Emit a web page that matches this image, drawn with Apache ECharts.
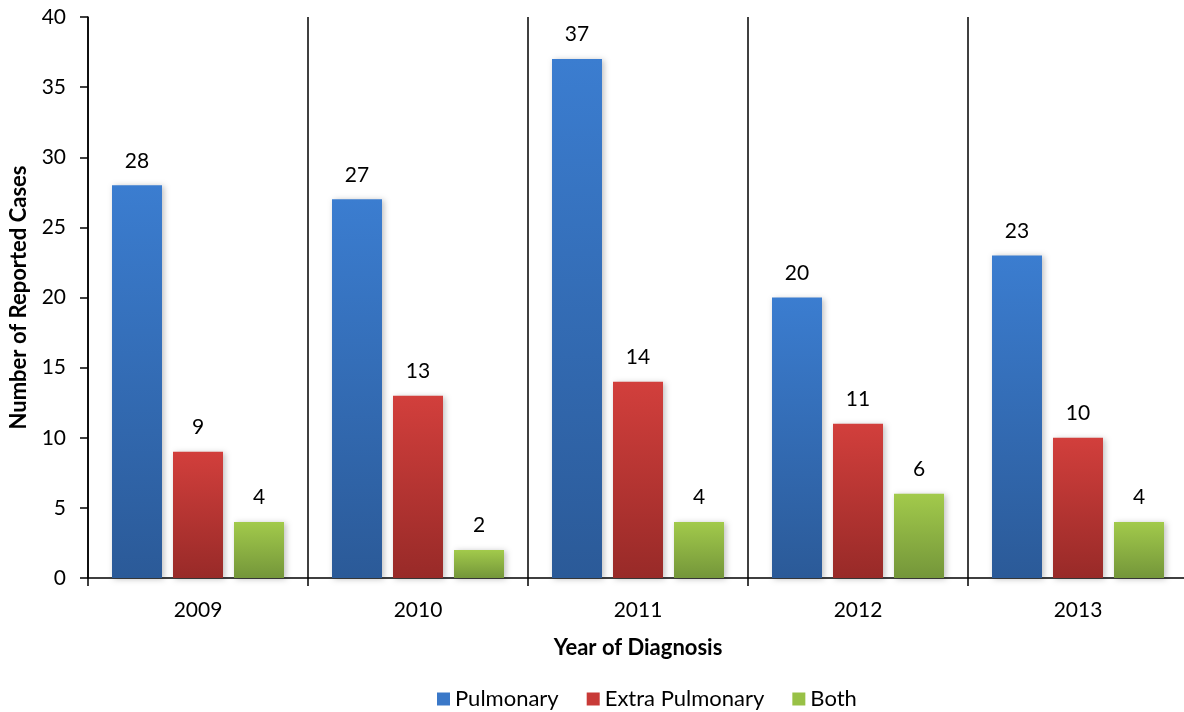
<!DOCTYPE html>
<html><head><meta charset="utf-8">
<script src="https://cdn.jsdelivr.net/npm/echarts@6/dist/echarts.min.js"></script>
<style>html,body{margin:0;padding:0;background:#fff}#c{width:1184px;height:712px}</style>
</head><body><div id="c"></div>
<script>
var years = ['2009','2010','2011','2012','2013'];
var pulmonary = [28,27,37,20,23];
var extraPulmonary = [9,13,14,11,10];
var both = [4,2,4,6,4];
var seriesNames = ['Pulmonary','Extra Pulmonary','Both'];

var FONT = 'Lato';
function grad(top, bottom){
  return new echarts.graphic.LinearGradient(0,0,0,1,[{offset:0,color:top},{offset:1,color:bottom}]);
}
function mk(name, data, top, bottom){
  return {
    name:name, type:'bar', data:data, barWidth:50, barGap:'22%',
    itemStyle:{color:grad(top,bottom), shadowColor:'rgba(0,0,0,0.25)', shadowBlur:6, shadowOffsetX:2, shadowOffsetY:1},
    label:{show:true, position:'top', distance:14, color:'#000', fontFamily:FONT, fontSize:21},
    emphasis:{disabled:true}
  };
}
var chart = echarts.init(document.getElementById('c'));
chart.setOption({
  animation:false,
  color:['#3a78c8','#c83a37','#98c146'],
  grid:{left:88, right:-4, top:17, bottom:134, containLabel:false, outerBoundsMode:'none'},
  legend:{
    top:688, left:437, padding:0, itemWidth:13, itemHeight:13, itemGap:28,
    icon:'rect',
    textStyle:{fontFamily:FONT, fontSize:22, color:'#000'},
    data:[
      {name:'Pulmonary', itemStyle:{color:'#3a78c8'}},
      {name:'Extra Pulmonary', itemStyle:{color:'#c83a37'}},
      {name:'Both', itemStyle:{color:'#98c146'}}
    ]
  },
  xAxis:{
    type:'category', data:years,
    name:'Year of Diagnosis', nameLocation:'middle', nameGap:59,
    nameTextStyle:{fontFamily:FONT, fontSize:22, fontWeight:'bold', color:'#000'},
    axisLine:{lineStyle:{color:'#000', width:1.5}},
    axisTick:{show:true, length:8, lineStyle:{color:'#000', width:1.5}},
    axisLabel:{fontFamily:FONT, fontSize:21, color:'#000', margin:22},
    splitLine:{show:true, lineStyle:{color:'#000', width:1.5}}
  },
  yAxis:{
    type:'value', min:0, max:40, interval:5,
    name:'Number of Reported Cases', nameLocation:'middle', nameGap:58,
    nameTextStyle:{fontFamily:FONT, fontSize:22, fontWeight:'bold', color:'#000'},
    axisLine:{show:true, lineStyle:{color:'#000', width:1.5}},
    axisTick:{show:true, length:8, lineStyle:{color:'#000', width:1.5}},
    axisLabel:{fontFamily:FONT, fontSize:21, color:'#000', margin:22},
    splitLine:{show:false}
  },
  series:[
    mk(seriesNames[0], pulmonary, '#3b7dd0', '#2b5a98'),
    mk(seriesNames[1], extraPulmonary, '#d23f3c', '#982a28'),
    mk(seriesNames[2], both, '#a2ca4b', '#74963a')
  ]
});
</script></body></html>
